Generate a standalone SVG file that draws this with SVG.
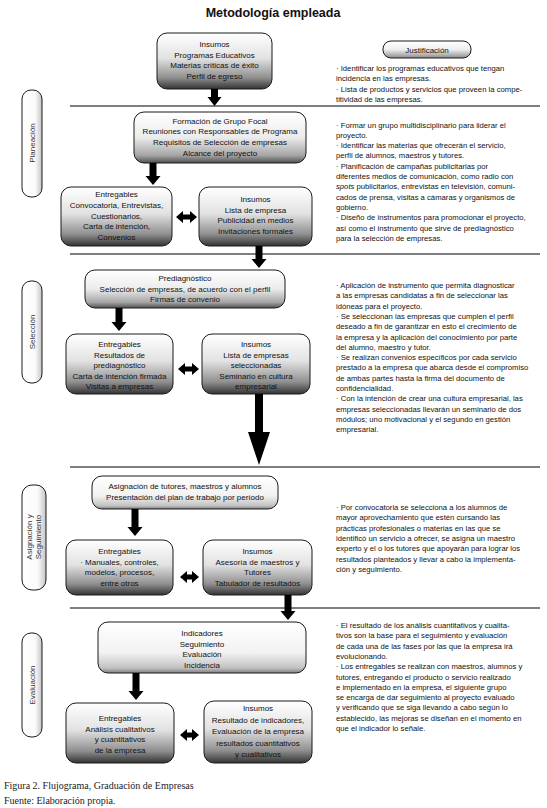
<svg xmlns="http://www.w3.org/2000/svg" width="547" height="808" viewBox="0 0 547 808">
<defs>
<linearGradient id="gDark" x1="0" y1="0" x2="0" y2="1">
<stop offset="0" stop-color="#ffffff"/><stop offset="0.45" stop-color="#e2e2e2"/><stop offset="0.8" stop-color="#8f8f8f"/><stop offset="1" stop-color="#333333"/>
</linearGradient>
<linearGradient id="gMed" x1="0" y1="0" x2="0" y2="1">
<stop offset="0" stop-color="#ffffff"/><stop offset="0.5" stop-color="#ececec"/><stop offset="0.85" stop-color="#a5a5a5"/><stop offset="1" stop-color="#505050"/>
</linearGradient>
<linearGradient id="gLight" x1="0" y1="0" x2="0" y2="1">
<stop offset="0" stop-color="#ffffff"/><stop offset="0.6" stop-color="#f2f2f2"/><stop offset="0.9" stop-color="#c2c2c2"/><stop offset="1" stop-color="#808080"/>
</linearGradient>
<linearGradient id="gPillV" x1="0" y1="0" x2="0" y2="1">
<stop offset="0" stop-color="#ffffff"/><stop offset="0.5" stop-color="#eeeeee"/><stop offset="1" stop-color="#8c8c8c"/>
</linearGradient>
<linearGradient id="gPillH" x1="0" y1="0" x2="1" y2="0">
<stop offset="0" stop-color="#ffffff"/><stop offset="0.65" stop-color="#fbfbfb"/><stop offset="1" stop-color="#c4c4c4"/>
</linearGradient>
<style>
.box{stroke:#1a1a1a;stroke-width:1}
.d{fill:url(#gDark)}
.m{fill:url(#gMed)}
.l{fill:url(#gLight)}
.pill{fill:url(#gPillH);stroke:#1a1a1a;stroke-width:1}
.bt{font-family:"Liberation Sans",Arial,sans-serif;font-size:8px;fill:#111;text-anchor:middle}
.jt{font-family:"Liberation Sans",Arial,sans-serif;font-size:7.7px;fill:#111}
.pt{font-family:"Liberation Sans",Arial,sans-serif;font-size:8px;fill:#333;text-anchor:middle}
.sep{stroke:#000;stroke-width:1.2}
.arr{fill:#000}
.cap{font-family:"Liberation Serif","Times New Roman",serif;font-size:10px;fill:#222}
</style>
</defs>
<rect width="547" height="808" fill="#fff"/>
<text x="273" y="17" font-family="Liberation Sans,Arial,sans-serif" font-size="12.5" font-weight="bold" fill="#111" text-anchor="middle">Metodología empleada</text>

<g id="separators">
<line class="sep" x1="70" y1="106" x2="540" y2="106"/>
<line class="sep" x1="70" y1="254" x2="540" y2="254"/>
<line class="sep" x1="70" y1="467" x2="540" y2="467"/>
<line class="sep" x1="70" y1="608" x2="540" y2="608"/>
</g>

<g id="phase-planeacion">
<rect class="pill" x="22" y="90" width="20" height="107" rx="9"/>
<text class="pt" transform="translate(35 143) rotate(-90)">Planeación</text>
</g>
<g id="phase-seleccion">
<rect class="pill" x="22" y="281" width="20" height="102" rx="9"/>
<text class="pt" transform="translate(35 332) rotate(-90)">Selección</text>
</g>
<g id="phase-asignacion">
<rect class="pill" x="22" y="485" width="24" height="105" rx="10"/>
<text class="pt" transform="translate(31.5 537) rotate(-90)">Asignación y</text>
<text class="pt" transform="translate(41 537) rotate(-90)">Seguimiento</text>
</g>
<g id="phase-evaluacion">
<rect class="pill" x="22" y="633" width="20" height="104" rx="9"/>
<text class="pt" transform="translate(35 685) rotate(-90)">Evaluación</text>
</g>

<g id="justificacion-header">
<rect x="383" y="41" width="88" height="17" rx="8" fill="url(#gPillV)" stroke="#1a1a1a" stroke-width="1"/>
<text class="bt" x="427" y="52.5">Justificación</text>
</g>

<g id="n1">
<rect class="box d" x="157" y="33" width="115" height="56" rx="10"/>
<text class="bt" x="214.5" y="47">Insumos</text>
<text class="bt" x="214.5" y="57.5">Programas Educativos</text>
<text class="bt" x="214.5" y="68">Materias críticas de éxito</text>
<text class="bt" x="214.5" y="78.5">Perfil de egreso</text>
</g>
<g id="n2">
<rect class="box m" x="134" y="112" width="172" height="51" rx="10"/>
<text class="bt" x="220" y="123.5">Formación de Grupo Focal</text>
<text class="bt" x="220" y="134">Reuniones con Responsables de Programa</text>
<text class="bt" x="220" y="145">Requisitos de Selección de empresas</text>
<text class="bt" x="220" y="155.5">Alcance del proyecto</text>
</g>
<g id="n3">
<rect class="box d" x="61" y="187" width="111" height="59" rx="10"/>
<text class="bt" x="116.5" y="197">Entregables</text>
<text class="bt" x="116.5" y="208">Convocatoria, Entrevistas,</text>
<text class="bt" x="116.5" y="218.5">Cuestionarios,</text>
<text class="bt" x="116.5" y="229">Carta de intención,</text>
<text class="bt" x="116.5" y="239.5">Convenios</text>
</g>
<g id="n4">
<rect class="box d" x="199" y="187" width="113" height="59" rx="10"/>
<text class="bt" x="255.5" y="202">Insumos</text>
<text class="bt" x="255.5" y="212.5">Lista de empresa</text>
<text class="bt" x="255.5" y="223">Publicidad en medios</text>
<text class="bt" x="255.5" y="233.5">Invitaciones formales</text>
</g>
<g id="n5">
<rect class="box m" x="85" y="270" width="200" height="38" rx="10"/>
<text class="bt" x="185" y="281">Prediagnóstico</text>
<text class="bt" x="185" y="291.5">Selección de empresas, de acuerdo con el perfil</text>
<text class="bt" x="185" y="302">Firmas de convenio</text>
</g>
<g id="n6">
<rect class="box d" x="66" y="334" width="107" height="60" rx="10"/>
<text class="bt" x="119.5" y="347">Entregables</text>
<text class="bt" x="119.5" y="357.5">Resultados de</text>
<text class="bt" x="119.5" y="368">prediagnóstico</text>
<text class="bt" x="119.5" y="378.5">Carta de intención firmada</text>
<text class="bt" x="119.5" y="389">Visitas a empresas</text>
</g>
<g id="n7">
<rect class="box d" x="202" y="334" width="108" height="60" rx="10"/>
<text class="bt" x="256" y="347">Insumos</text>
<text class="bt" x="256" y="357.5">Lista de empresas</text>
<text class="bt" x="256" y="368">seleccionadas</text>
<text class="bt" x="256" y="378.5">Seminario en cultura</text>
<text class="bt" x="256" y="389">empresarial</text>
</g>
<g id="n8">
<rect class="box l" x="92" y="476" width="186" height="33" rx="10"/>
<text class="bt" x="185" y="489">Asignación de tutores, maestros y alumnos</text>
<text class="bt" x="185" y="500">Presentación del plan de trabajo por período</text>
</g>
<g id="n9">
<rect class="box d" x="66" y="540" width="107" height="55" rx="10"/>
<text class="bt" x="119.5" y="554">Entregables</text>
<text class="bt" x="119.5" y="564.5">· Manuales, controles,</text>
<text class="bt" x="119.5" y="575">modelos, procesos,</text>
<text class="bt" x="119.5" y="585.5">entre otros</text>
</g>
<g id="n10">
<rect class="box d" x="203" y="540" width="109" height="55" rx="10"/>
<text class="bt" x="257.5" y="554">Insumos</text>
<text class="bt" x="257.5" y="564.5">Asesoría de maestros y</text>
<text class="bt" x="257.5" y="575">Tutores</text>
<text class="bt" x="257.5" y="585.5">Tabulador de resultados</text>
</g>
<g id="n11">
<rect class="box l" x="98" y="622" width="208" height="51" rx="10"/>
<text class="bt" x="202" y="636">Indicadores</text>
<text class="bt" x="202" y="646.5">Seguimiento</text>
<text class="bt" x="202" y="657">Evaluación</text>
<text class="bt" x="202" y="667.5">Incidencia</text>
</g>
<g id="n12">
<rect class="box d" x="66" y="703" width="108" height="60" rx="10"/>
<text class="bt" x="120" y="721">Entregables</text>
<text class="bt" x="120" y="731.5">Análisis cualitativos</text>
<text class="bt" x="120" y="742">y cuantitativos</text>
<text class="bt" x="120" y="752.5">de la empresa</text>
</g>
<g id="n13">
<rect class="box d" x="204" y="701" width="108" height="62" rx="10"/>
<text class="bt" x="258" y="711">Insumos</text>
<text class="bt" x="258" y="722.5">Resultado de indicadores,</text>
<text class="bt" x="258" y="734">Evaluación de la empresa</text>
<text class="bt" x="258" y="745.5">resultados cuantitativos</text>
<text class="bt" x="258" y="757">y cualitativos</text>
</g>

<g id="connectors">
<polygon class="arr" points="211,89 218,89 218,97 221.5,97 214.5,106 207.5,97 211,97"/>
<polygon class="arr" points="149.5,163 156.5,163 156.5,176 160.5,176 153,185 145.5,176 149.5,176"/>
<polygon class="arr" points="255.5,246 262.5,246 262.5,259 266.5,259 259,268 251.5,259 255.5,259"/>
<polygon class="arr" points="115.5,308 122.5,308 122.5,322 126.5,322 119,331 111.5,322 115.5,322"/>
<polygon class="arr" points="255,394 263,394 263,432 270,432 259,465 248,432 255,432"/>
<polygon class="arr" points="131.5,509 138.5,509 138.5,527 142.5,527 135,536 127.5,527 131.5,527"/>
<polygon class="arr" points="284.5,595 291.5,595 291.5,611 295.5,611 288,620 280.5,611 284.5,611"/>
<polygon class="arr" points="132.5,673 139.5,673 139.5,691 143.5,691 136,700 128.5,691 132.5,691"/>
<polygon class="arr" points="176,217 183,211 183,214.5 190,214.5 190,211 197,217 190,223 190,219.5 183,219.5 183,223"/>
<polygon class="arr" points="178,369 185,363 185,366.5 192,366.5 192,363 199,369 192,375 192,371.5 185,371.5 185,375"/>
<polygon class="arr" points="180,577 187,571 187,574.5 192,574.5 192,571 199,577 192,583 192,579.5 187,579.5 187,583"/>
<polygon class="arr" points="180,735 187,729 187,732.5 192,732.5 192,729 199,735 192,741 192,737.5 187,737.5 187,741"/>
</g>

<g id="justificacion-1">
<text class="jt" x="336" y="71">· Identificar los programas educativos que tengan</text>
<text class="jt" x="336" y="81.3">incidencia en las empresas.</text>
<text class="jt" x="336" y="91.6">· Lista de productos y servicios que proveen la compe-</text>
<text class="jt" x="336" y="101.9">titividad de las empresas.</text>
</g>
<g id="justificacion-2">
<text class="jt" x="336" y="127.5">· Formar un grupo multidisciplinario para liderar el</text>
<text class="jt" x="336" y="137.8">proyecto.</text>
<text class="jt" x="336" y="148.1">· Identificar las materias que ofrecerán el servicio,</text>
<text class="jt" x="336" y="158.4">perfil de alumnos, maestros y tutores.</text>
<text class="jt" x="336" y="168.7">· Planificación de campañas publicitarias por</text>
<text class="jt" x="336" y="179">diferentes medios de comunicación, como radio con</text>
<text class="jt" x="336" y="189.3"><tspan font-style="italic">spots</tspan> publicitarios, entrevistas en televisión, comuni-</text>
<text class="jt" x="336" y="199.6">cados de prensa, visitas a cámaras y organismos de</text>
<text class="jt" x="336" y="209.9">gobierno.</text>
<text class="jt" x="336" y="220.2">· Diseño de instrumentos para promocionar el proyecto,</text>
<text class="jt" x="336" y="230.5">así como el instrumento que sirve de prediagnóstico</text>
<text class="jt" x="336" y="240.8">para la selección de empresas.</text>
</g>
<g id="justificacion-3">
<text class="jt" x="336" y="288">· Aplicación de instrumento que permita diagnosticar</text>
<text class="jt" x="336" y="298.3">a las empresas candidatas a fin de seleccionar las</text>
<text class="jt" x="336" y="308.6">idóneas para el proyecto.</text>
<text class="jt" x="336" y="318.9">· Se seleccionan las empresas que cumplen el perfil</text>
<text class="jt" x="336" y="329.2">deseado a fin de garantizar en esto el crecimiento de</text>
<text class="jt" x="336" y="339.5">la empresa y la aplicación del conocimiento por parte</text>
<text class="jt" x="336" y="349.8">del alumno, maestro y tutor.</text>
<text class="jt" x="336" y="360.1">· Se realizan convenios específicos por cada servicio</text>
<text class="jt" x="336" y="370.4">prestado a la empresa que abarca desde el compromiso</text>
<text class="jt" x="336" y="380.7">de ambas partes hasta la firma del documento de</text>
<text class="jt" x="336" y="391">confidencialidad.</text>
<text class="jt" x="336" y="401.3">· Con la intención de crear una cultura empresarial, las</text>
<text class="jt" x="336" y="411.6">empresas seleccionadas llevarán un seminario de dos</text>
<text class="jt" x="336" y="421.9">módulos; uno motivacional y el segundo en gestión</text>
<text class="jt" x="336" y="432.2">empresarial.</text>
</g>
<g id="justificacion-4">
<text class="jt" x="336" y="510">· Por convocatoria se selecciona a los alumnos de</text>
<text class="jt" x="336" y="520.3">mayor aprovechamiento que estén cursando las</text>
<text class="jt" x="336" y="530.6">prácticas profesionales o materias en las que se</text>
<text class="jt" x="336" y="540.9">identificó un servicio a ofrecer, se asigna un maestro</text>
<text class="jt" x="336" y="551.2">experto y el o los tutores que apoyarán para lograr los</text>
<text class="jt" x="336" y="561.5">resultados planteados y llevar a cabo la implementa-</text>
<text class="jt" x="336" y="571.8">ción y seguimiento.</text>
</g>
<g id="justificacion-5">
<text class="jt" x="336" y="628">· El resultado de los análisis cuantitativos y cualita-</text>
<text class="jt" x="336" y="638.3">tivos son la base para el seguimiento y evaluación</text>
<text class="jt" x="336" y="648.6">de cada una de las fases por las que la empresa irá</text>
<text class="jt" x="336" y="658.9">evolucionando.</text>
<text class="jt" x="336" y="669.2">· Los entregables se realizan con maestros, alumnos y</text>
<text class="jt" x="336" y="679.5">tutores, entregando el producto o servicio realizado</text>
<text class="jt" x="336" y="689.8">e implementado en la empresa, el siguiente grupo</text>
<text class="jt" x="336" y="700.1">se encarga de dar seguimiento al proyecto evaluado</text>
<text class="jt" x="336" y="710.4">y verificando que se siga llevando a cabo según lo</text>
<text class="jt" x="336" y="720.7">establecido, las mejoras se diseñan en el momento en</text>
<text class="jt" x="336" y="731">que el indicador lo señale.</text>
</g>

<g id="caption">
<text class="cap" x="4" y="789">Figura 2. Flujograma, Graduación de Empresas</text>
<text class="cap" x="4" y="804">Fuente: Elaboración propia.</text>
</g>
</svg>
